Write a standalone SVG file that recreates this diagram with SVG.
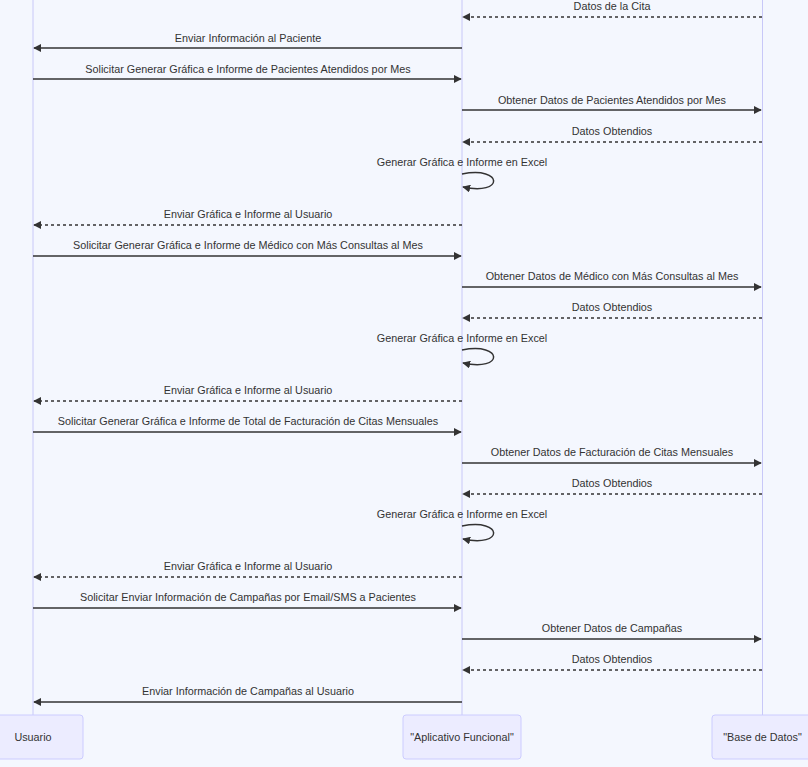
<svg xmlns="http://www.w3.org/2000/svg" width="808" height="767" viewBox="0 0 808 767">
<style>
text{font-family:"Liberation Sans",Arial,sans-serif;font-size:10.8px;fill:#333;text-anchor:middle}
.life{stroke:#c8c8f8;stroke-width:1}
.actor{fill:#ececff;stroke:#ccccff;stroke-width:1}
.msg{stroke:#333;stroke-width:1.5;fill:none}
.dash{stroke-dasharray:3,3}
</style>
<defs>
<marker id="ah" viewBox="0 0 10 10" refX="9" refY="5" markerWidth="8" markerHeight="8" markerUnits="userSpaceOnUse" orient="auto-start-reverse">
<path d="M0,0 L10,5 L0,10 z" fill="#333"/>
</marker>
</defs>
<rect width="808" height="767" fill="#f4f7fe"/>
<g id="lifelines">
<line class="life" x1="33" y1="0" x2="33" y2="715"/>
<line class="life" x1="462" y1="0" x2="462" y2="715"/>
<line class="life" x1="762.5" y1="0" x2="762.5" y2="715"/>
</g>
<g id="actor-usuario"><rect class="actor" x="-17" y="715" width="100" height="44" rx="3"/><text x="33" y="741">Usuario</text></g>
<g id="actor-app"><rect class="actor" x="403" y="715" width="118" height="44" rx="3"/><text x="462" y="741">"Aplicativo Funcional"</text></g>
<g id="actor-db"><rect class="actor" x="712" y="715" width="101" height="44" rx="3"/><text x="762.5" y="741">"Base de Datos"</text></g>
<g id="connectors">
<line class="msg dash" x1="762" y1="17" x2="463" y2="17" marker-end="url(#ah)"/>
<text x="612" y="10">Datos de la Cita</text>
<line class="msg" x1="462" y1="48" x2="34" y2="48" marker-end="url(#ah)"/>
<text x="248" y="42">Enviar Información al Paciente</text>
<line class="msg" x1="33" y1="79" x2="461" y2="79" marker-end="url(#ah)"/>
<text x="248" y="73">Solicitar Generar Gráfica e Informe de Pacientes Atendidos por Mes</text>
<line class="msg" x1="462" y1="110" x2="761" y2="110" marker-end="url(#ah)"/>
<text x="612" y="104">Obtener Datos de Pacientes Atendidos por Mes</text>
<line class="msg dash" x1="762" y1="142" x2="463" y2="142" marker-end="url(#ah)"/>
<text x="612" y="135">Datos Obtendios</text>
<text x="462" y="166">Generar Gráfica e Informe en Excel</text>
<path class="msg" d="M462,174 C504,166 504,196 463,187" marker-end="url(#ah)"/>
<line class="msg dash" x1="462" y1="225" x2="34" y2="225" marker-end="url(#ah)"/>
<text x="248" y="218">Enviar Gráfica e Informe al Usuario</text>
<line class="msg" x1="33" y1="256" x2="461" y2="256" marker-end="url(#ah)"/>
<text x="248" y="249">Solicitar Generar Gráfica e Informe de Médico con Más Consultas al Mes</text>
<line class="msg" x1="462" y1="287" x2="761" y2="287" marker-end="url(#ah)"/>
<text x="612" y="280">Obtener Datos de Médico con Más Consultas al Mes</text>
<line class="msg dash" x1="762" y1="318" x2="463" y2="318" marker-end="url(#ah)"/>
<text x="612" y="311">Datos Obtendios</text>
<text x="462" y="342">Generar Gráfica e Informe en Excel</text>
<path class="msg" d="M462,350 C504,342 504,372 463,363" marker-end="url(#ah)"/>
<line class="msg dash" x1="462" y1="401" x2="34" y2="401" marker-end="url(#ah)"/>
<text x="248" y="394">Enviar Gráfica e Informe al Usuario</text>
<line class="msg" x1="33" y1="432" x2="461" y2="432" marker-end="url(#ah)"/>
<text x="248" y="425">Solicitar Generar Gráfica e Informe de Total de Facturación de Citas Mensuales</text>
<line class="msg" x1="462" y1="463" x2="761" y2="463" marker-end="url(#ah)"/>
<text x="612" y="456">Obtener Datos de Facturación de Citas Mensuales</text>
<line class="msg dash" x1="762" y1="494" x2="463" y2="494" marker-end="url(#ah)"/>
<text x="612" y="487">Datos Obtendios</text>
<text x="462" y="518">Generar Gráfica e Informe en Excel</text>
<path class="msg" d="M462,526 C504,518 504,548 463,539" marker-end="url(#ah)"/>
<line class="msg dash" x1="462" y1="577" x2="34" y2="577" marker-end="url(#ah)"/>
<text x="248" y="570">Enviar Gráfica e Informe al Usuario</text>
<line class="msg" x1="33" y1="608" x2="461" y2="608" marker-end="url(#ah)"/>
<text x="248" y="601">Solicitar Enviar Información de Campañas por Email/SMS a Pacientes</text>
<line class="msg" x1="462" y1="639" x2="761" y2="639" marker-end="url(#ah)"/>
<text x="612" y="632">Obtener Datos de Campañas</text>
<line class="msg dash" x1="762" y1="670" x2="463" y2="670" marker-end="url(#ah)"/>
<text x="612" y="663">Datos Obtendios</text>
<line class="msg" x1="462" y1="702" x2="34" y2="702" marker-end="url(#ah)"/>
<text x="248" y="695">Enviar Información de Campañas al Usuario</text>
</g>
</svg>
